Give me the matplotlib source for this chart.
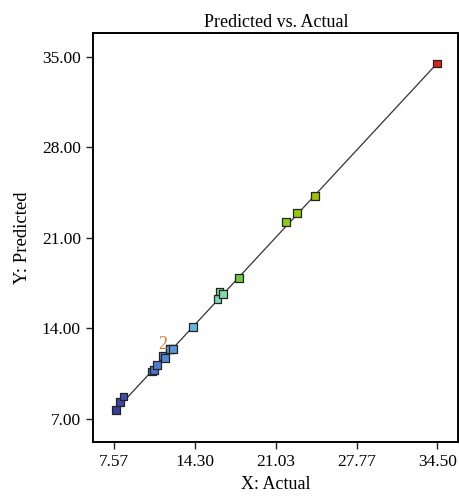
import numpy as np
import matplotlib.pyplot as plt
from matplotlib.colors import LinearSegmentedColormap

# actual vs predicted response values
actual = [7.69, 8.05, 8.32, 10.69, 10.88, 11.11, 11.61, 11.80, 12.22, 12.22, 12.47,
          14.11, 16.17, 16.33, 16.62, 17.98, 21.90, 22.82, 24.32, 34.50]
predicted = [7.70, 8.32, 8.73, 10.66, 10.79, 11.18, 11.88, 11.72, 12.42, 12.42, 12.42,
             14.12, 16.26, 16.85, 16.67, 17.91, 22.24, 22.93, 24.25, 34.50]

xticks = [7.57, 14.30, 21.03, 27.77, 34.50]
yticks = [7.00, 14.00, 21.00, 28.00, 35.00]

plt.rcParams['font.family'] = ['Liberation Serif', 'DejaVu Serif']

# blue -> cyan -> green -> yellow -> red by predicted value
cmap = LinearSegmentedColormap.from_list('de', [
    (0.00, '#3a3c9e'), (0.12, '#4f78d2'), (0.24, '#62b6e0'),
    (0.33, '#80dcb0'), (0.38, '#70c83c'), (0.60, '#9acc00'),
    (1.00, '#d8231c')])

fig = plt.figure(figsize=(4.6, 4.97), dpi=100)
ax = fig.add_axes([0.203, 0.111, 0.793, 0.823])

lo, hi = min(predicted), max(predicted)
ax.plot([min(actual), max(actual)], [min(actual), max(actual)],
        color='#333333', lw=0.9, zorder=1)
ax.scatter(actual, predicted, c=predicted, cmap=cmap, vmin=lo, vmax=hi,
           marker='s', s=30, edgecolors='#222222', linewidths=0.9, zorder=2)

# count label for the overlapping pair
ax.annotate('2', (actual[8], predicted[8]), xytext=(-5, -3),
            textcoords='offset points', color='#e07828', fontsize=13,
            ha='center', va='bottom', zorder=3)

ax.set_xlim(5.817, 36.25)
ax.set_ylim(5.22, 36.86)
ax.set_xticks(xticks)
ax.set_xticklabels(['%.2f' % v for v in xticks])
ax.set_yticks(yticks)
ax.set_yticklabels(['%.2f' % v for v in yticks])
ax.tick_params(direction='out', length=5, width=1, labelsize=12.5,
               color='#222222', pad=4)
for s in ax.spines.values():
    s.set_linewidth(1.4)

ax.set_xlabel('X: Actual', fontsize=13, labelpad=4)
ax.set_ylabel('Y: Predicted', fontsize=13.5, labelpad=8)
ax.set_title('Predicted vs. Actual', fontsize=13, pad=4)

fig.savefig('out.png', dpi=100)
